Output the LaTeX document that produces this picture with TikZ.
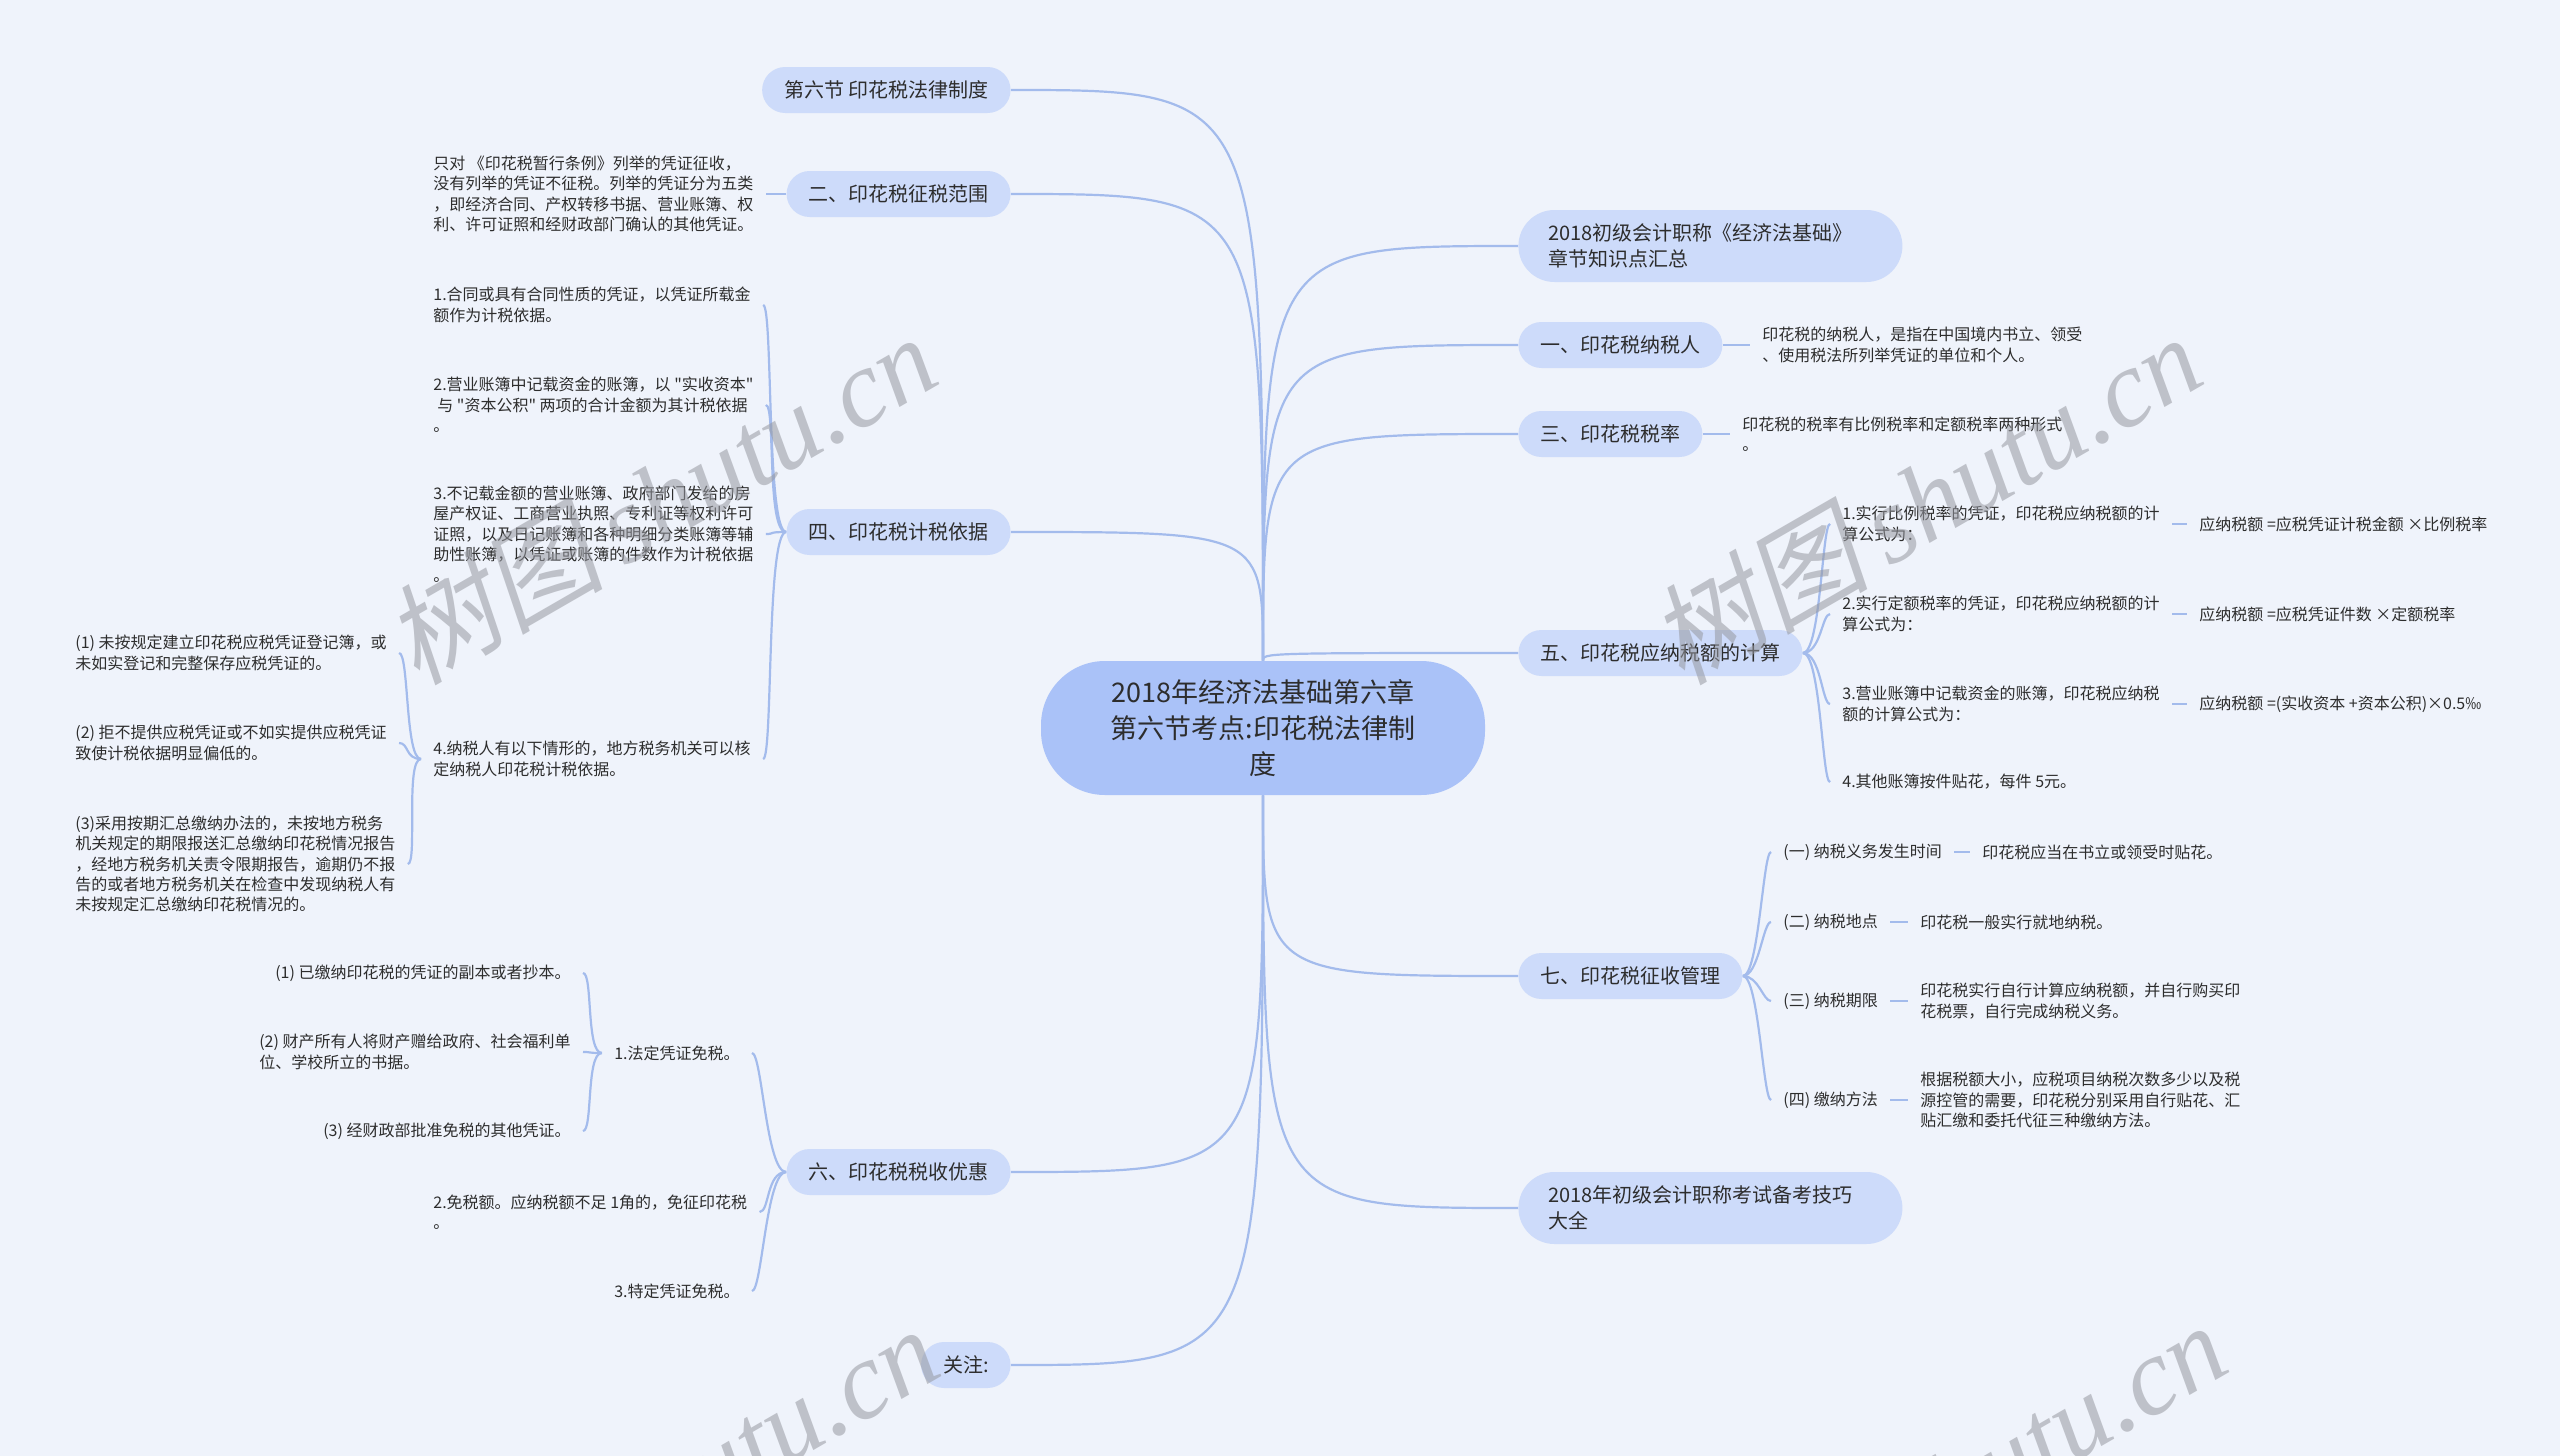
\documentclass[tikz,border=0pt]{standalone}
\usepackage{fontspec}
\setmainfont{Noto Sans CJK SC}[Ligatures=TeXOff]
\newfontfamily\wmcjk[FakeSlant=0.2]{Noto Sans CJK SC}
\newfontfamily\wmlat{Liberation Serif}
\definecolor{bgc}{RGB}{239,243,251}
\definecolor{rootc}{RGB}{170,194,248}
\definecolor{topc}{RGB}{205,219,250}
\definecolor{linec}{RGB}{163,187,236}
\definecolor{txtc}{RGB}{45,45,45}
\definecolor{wmc}{RGB}{150,152,160}
\pgfdeclarelayer{background}
\pgfdeclarelayer{edges}
\pgfsetlayers{background,edges,main}

\begin{document}
\begin{tikzpicture}[x=0.5pt, y=-0.5pt,
    root/.style={fill=rootc, rounded corners=32pt, minimum width=222pt, minimum height=67pt, align=center, text=txtc, font=\fontsize{13.5}{18}\selectfont},
    topic/.style={fill=topc, rounded corners=11.5pt, minimum height=23pt, inner xsep=11pt, text=txtc, font=\fontsize{10}{13}\selectfont},
    widetopic/.style={topic, rounded corners=18pt, minimum height=36pt, text width=162pt, inner xsep=15pt, align=left},
    leaf/.style={inner xsep=6pt, inner ysep=1pt, align=left, text=txtc, font=\fontsize{8}{10.2}\selectfont},
    link/.style={draw=linec, line width=1.1pt},
    wmark/.style={rotate=30, text=wmc, opacity=0.55, font=\fontsize{55}{55}\selectfont}]
  \begin{pgfonlayer}{background}
    \fill[bgc] (0,0) rectangle (2560,1456);
  \end{pgfonlayer}
  \useasboundingbox (0,0) rectangle (2560,1456);

  \node[root] (root) at (1263,728) {2018年经济法基础第六章\\第六节考点:印花税法律制\\度};

  % left side
  \node[topic, anchor=east] (jie6) at (1011,90) {第六节 印花税法律制度};
  \node[topic, anchor=east] (sec2) at (1011,194) {二、印花税征税范围};
  \node[topic, anchor=east] (sec4) at (1011,532) {四、印花税计税依据};
  \node[topic, anchor=east] (sec6) at (1011,1172) {六、印花税税收优惠};
  \node[topic, anchor=east] (guanzhu) at (1011,1365) {关注:};

  \node[leaf, anchor=west] (fanwei) at (421,194) {只对 《印花税暂行条例》列举的凭证征收，\\没有列举的凭证不征税。列举的凭证分为五类\\，即经济合同、产权转移书据、营业账簿、权\\利、许可证照和经财政部门确认的其他凭证。};

  \node[leaf, anchor=west] (yiju1) at (421,305) {1.合同或具有合同性质的凭证，以凭证所载金\\额作为计税依据。};
  \node[leaf, anchor=west] (yiju2) at (421,405) {2.营业账簿中记载资金的账簿，以 "实收资本"\\\hspace*{2pt}与 "资本公积" 两项的合计金额为其计税依据\\。};
  \node[leaf, anchor=west] (yiju3) at (421,534) {3.不记载金额的营业账簿、政府部门发给的房\\屋产权证、工商营业执照、专利证等权利许可\\证照，以及日记账簿和各种明细分类账簿等辅\\助性账簿，以凭证或账簿的件数作为计税依据\\。};
  \node[leaf, anchor=west] (yiju4) at (421,759) {4.纳税人有以下情形的，地方税务机关可以核\\定纳税人印花税计税依据。};

  \node[leaf, anchor=west] (qingxing1) at (63,653) {(1) 未按规定建立印花税应税凭证登记簿，或\\未如实登记和完整保存应税凭证的。};
  \node[leaf, anchor=west] (qingxing2) at (63,743) {(2) 拒不提供应税凭证或不如实提供应税凭证\\致使计税依据明显偏低的。};
  \node[leaf, anchor=west] (qingxing3) at (63,864) {(3)采用按期汇总缴纳办法的，未按地方税务\\机关规定的期限报送汇总缴纳印花税情况报告\\，经地方税务机关责令限期报告，逾期仍不报\\告的或者地方税务机关在检查中发现纳税人有\\未按规定汇总缴纳印花税情况的。};

  \node[leaf, anchor=east] (youhui1) at (752,1053) {1.法定凭证免税。};
  \node[leaf, anchor=west] (youhui2) at (421,1212) {2.免税额。应纳税额不足 1角的，免征印花税\\。};
  \node[leaf, anchor=east] (youhui3) at (752,1291) {3.特定凭证免税。};

  \node[leaf, anchor=east] (mian1) at (583,973) {(1) 已缴纳印花税的凭证的副本或者抄本。};
  \node[leaf, anchor=east] (mian2) at (583,1052) {(2) 财产所有人将财产赠给政府、社会福利单\\位、学校所立的书据。};
  \node[leaf, anchor=east] (mian3) at (583,1131) {(3) 经财政部批准免税的其他凭证。};

  % right side
  \node[widetopic, anchor=west] (intro) at (1518,246) {2018初级会计职称《经济法基础》\\章节知识点汇总};
  \node[topic, anchor=west] (sec1) at (1518,345) {一、印花税纳税人};
  \node[topic, anchor=west] (sec3) at (1518,434) {三、印花税税率};
  \node[topic, anchor=west] (sec5) at (1518,653) {五、印花税应纳税额的计算};
  \node[topic, anchor=west] (sec7) at (1518,976) {七、印花税征收管理};
  \node[widetopic, anchor=west] (tips) at (1518,1208) {2018年初级会计职称考试备考技巧\\大全};

  \node[leaf, anchor=west] (nashuiren) at (1750,345) {印花税的纳税人，是指在中国境内书立、领受\\、使用税法所列举凭证的单位和个人。};
  \node[leaf, anchor=west] (shuilv) at (1730,434) {印花税的税率有比例税率和定额税率两种形式\\。};

  \node[leaf, anchor=west] (jisuan1) at (1830,524) {1.实行比例税率的凭证，印花税应纳税额的计\\算公式为：};
  \node[leaf, anchor=west] (jisuan2) at (1830,614) {2.实行定额税率的凭证，印花税应纳税额的计\\算公式为：};
  \node[leaf, anchor=west] (jisuan3) at (1830,704) {3.营业账簿中记载资金的账簿，印花税应纳税\\额的计算公式为：};
  \node[leaf, anchor=west] (jisuan4) at (1830,782) {4.其他账簿按件贴花，每件 5元。};

  \node[leaf, anchor=west] (gongshi1) at (2187,524) {应纳税额 =应税凭证计税金额 ×比例税率};
  \node[leaf, anchor=west] (gongshi2) at (2187,614) {应纳税额 =应税凭证件数 ×定额税率};
  \node[leaf, anchor=west] (gongshi3) at (2187,704) {应纳税额 =(实收资本 +资本公积)×0.5‰};

  \node[leaf, anchor=west] (guanli1) at (1771,852) {(一) 纳税义务发生时间};
  \node[leaf, anchor=west] (guanli2) at (1771,922) {(二) 纳税地点};
  \node[leaf, anchor=west] (guanli3) at (1771,1001) {(三) 纳税期限};
  \node[leaf, anchor=west] (guanli4) at (1771,1100) {(四) 缴纳方法};

  \node[leaf, anchor=west] (shijian) at (1970,852) {印花税应当在书立或领受时贴花。};
  \node[leaf, anchor=west] (didian) at (1908,922) {印花税一般实行就地纳税。};
  \node[leaf, anchor=west] (qixian) at (1908,1001) {印花税实行自行计算应纳税额，并自行购买印\\花税票，自行完成纳税义务。};
  \node[leaf, anchor=west] (fangfa) at (1908,1100) {根据税额大小，应税项目纳税次数多少以及税\\源控管的需要，印花税分别采用自行贴花、汇\\贴汇缴和委托代征三种缴纳方法。};

  \begin{pgfonlayer}{edges}
    \draw[link] (root.north) .. controls (root.north |- jie6.east) .. (jie6.east);
    \draw[link] (root.north) .. controls (root.north |- sec2.east) .. (sec2.east);
    \draw[link] (root.north) .. controls (root.north |- sec4.east) .. (sec4.east);
    \draw[link] (root.south) .. controls (root.south |- sec6.east) .. (sec6.east);
    \draw[link] (root.south) .. controls (root.south |- guanzhu.east) .. (guanzhu.east);
    \draw[link] (root.north) .. controls (root.north |- intro.west) .. (intro.west);
    \draw[link] (root.north) .. controls (root.north |- sec1.west) .. (sec1.west);
    \draw[link] (root.north) .. controls (root.north |- sec3.west) .. (sec3.west);
    \draw[link] (root.north) .. controls (root.north |- sec5.west) .. (sec5.west);
    \draw[link] (root.south) .. controls (root.south |- sec7.west) .. (sec7.west);
    \draw[link] (root.south) .. controls (root.south |- tips.west) .. (tips.west);

    \draw[link] (sec2.west) -- (fanwei.east);
    \draw[link] (sec4.west) .. controls +(-20,0) and +(10,0) .. (yiju1.east);
    \draw[link] (sec4.west) .. controls +(-20,0) and +(10,0) .. (yiju2.east);
    \draw[link] (sec4.west) .. controls +(-20,0) and +(10,0) .. (yiju3.east);
    \draw[link] (sec4.west) .. controls +(-20,0) and +(10,0) .. (yiju4.east);
    \draw[link] (yiju4.west) .. controls +(-16,0) and +(10,0) .. (qingxing1.east);
    \draw[link] (yiju4.west) .. controls +(-16,0) and +(10,0) .. (qingxing2.east);
    \draw[link] (yiju4.west) .. controls +(-16,0) and +(10,0) .. (qingxing3.east);
    \draw[link] (sec6.west) .. controls +(-20,0) and +(10,0) .. (youhui1.east);
    \draw[link] (sec6.west) .. controls +(-20,0) and +(10,0) .. (youhui2.east);
    \draw[link] (sec6.west) .. controls +(-20,0) and +(10,0) .. (youhui3.east);
    \draw[link] (youhui1.west) .. controls +(-16,0) and +(10,0) .. (mian1.east);
    \draw[link] (youhui1.west) .. controls +(-16,0) and +(10,0) .. (mian2.east);
    \draw[link] (youhui1.west) .. controls +(-16,0) and +(10,0) .. (mian3.east);

    \draw[link] (sec1.east) -- (nashuiren.west);
    \draw[link] (sec3.east) -- (shuilv.west);
    \draw[link] (sec5.east) .. controls +(18,0) and +(-8,0) .. (jisuan1.west);
    \draw[link] (sec5.east) .. controls +(18,0) and +(-8,0) .. (jisuan2.west);
    \draw[link] (sec5.east) .. controls +(18,0) and +(-8,0) .. (jisuan3.west);
    \draw[link] (sec5.east) .. controls +(18,0) and +(-8,0) .. (jisuan4.west);
    \draw[link] (jisuan1.east) -- (gongshi1.west);
    \draw[link] (jisuan2.east) -- (gongshi2.west);
    \draw[link] (jisuan3.east) -- (gongshi3.west);
    \draw[link] (sec7.east) .. controls +(16,0) and +(-8,0) .. (guanli1.west);
    \draw[link] (sec7.east) .. controls +(16,0) and +(-8,0) .. (guanli2.west);
    \draw[link] (sec7.east) .. controls +(16,0) and +(-8,0) .. (guanli3.west);
    \draw[link] (sec7.east) .. controls +(16,0) and +(-8,0) .. (guanli4.west);
    \draw[link] (guanli1.east) -- (shijian.west);
    \draw[link] (guanli2.east) -- (didian.west);
    \draw[link] (guanli3.east) -- (qixian.west);
    \draw[link] (guanli4.east) -- (fangfa.west);
  \end{pgfonlayer}

  % watermark
  \begin{scope}
    \clip (0,0) rectangle (2560,1456);
    \node[wmark] (wm1) at (660,498) {{\wmcjk 树图}\,{\wmlat\itshape shutu.cn}};
    \node[wmark] (wm2) at (1925,498) {{\wmcjk 树图}\,{\wmlat\itshape shutu.cn}};
    \node[wmark] (wm3) at (662,1490) {{\wmcjk 树图}\,{\wmlat\itshape shutu.cn}};
    \node[wmark] (wm4) at (1950,1486) {{\wmcjk 树图}\,{\wmlat\itshape shutu.cn}};
  \end{scope}
\end{tikzpicture}
\end{document}
